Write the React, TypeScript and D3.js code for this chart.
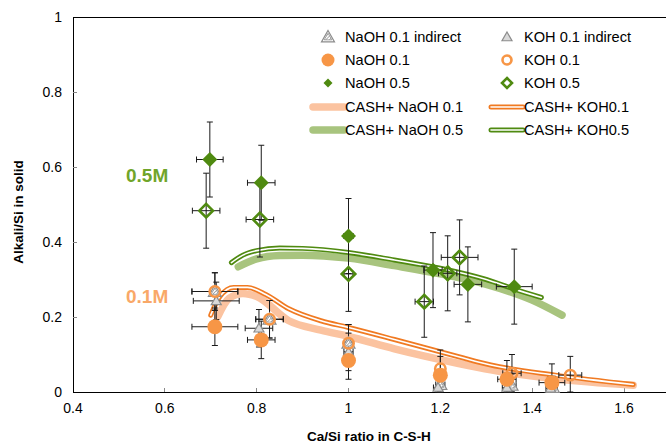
import React from "react";
import * as d3 from "d3";

const W = 666, H = 445;
const xTicks = [0.4, 0.6, 0.8, 1, 1.2, 1.4, 1.6];
const yTicks = [0, 0.2, 0.4, 0.6, 0.8, 1];

// NaOH 0.1 indirect
const naInd01X = [0.709, 0.828, 1.0, 1.2, 1.355, 1.445];
const naInd01Y = [0.268, 0.194, 0.13, 0.02, 0.018, 0.012];
const naInd01XErr = [0.05, 0.03, 0.01, 0.01, 0.01, 0.01];
const naInd01YErr = [0.05, 0.05, 0.05, 0.03, 0.03, 0.03];
// KOH 0.1 indirect
const kInd01X = [0.712, 0.805, 1.0, 1.195, 1.345, 1.44];
const kInd01Y = [0.243, 0.17, 0.107, 0.012, 0.012, 0.01];
const kInd01XErr = [0.05, 0.03, 0.01, 0.01, 0.01, 0.01];
const kInd01YErr = [0.05, 0.05, 0.05, 0.03, 0.03, 0.03];
// NaOH 0.1
const na01X = [0.709, 0.81, 1.0, 1.2, 1.345, 1.443];
const na01Y = [0.174, 0.139, 0.084, 0.045, 0.034, 0.025];
const na01XErr = [0.05, 0.03, 0.0, 0.0, 0.02, 0.028];
const na01YErr = [0.05, 0.05, 0.05, 0.05, 0.05, 0.05];
// KOH 0.1
const k01X = [0.709, 0.828, 1.0, 1.2, 1.356, 1.483];
const k01Y = [0.268, 0.194, 0.13, 0.062, 0.05, 0.045];
const k01XErr = [0.05, 0.03, 0.0, 0.0, 0.02, 0.025];
const k01YErr = [0.05, 0.05, 0.05, 0.05, 0.05, 0.05];
// NaOH 0.5
const na05X = [0.698, 0.81, 1.0, 1.184, 1.26, 1.361];
const na05Y = [0.62, 0.558, 0.416, 0.325, 0.287, 0.281];
const na05XErr = [0.029, 0.03, 0.01, 0.02, 0.03, 0.039];
const na05YErr = [0.1, 0.1, 0.1, 0.1, 0.1, 0.1];
// KOH 0.5
const k05X = [0.69, 0.807, 1.0, 1.165, 1.216, 1.242];
const k05Y = [0.4835, 0.46, 0.315, 0.241, 0.3165, 0.359];
const k05XErr = [0.03, 0.03, 0.01, 0.02, 0.02, 0.04];
const k05YErr = [0.1, 0.1, 0.1, 0.095, 0.1, 0.1];

// model curves
const cashNa01X = [0.715, 0.74, 0.77, 0.8, 0.87, 0.94, 1.0, 1.1, 1.24, 1.31, 1.45, 1.62];
const cashNa01Y = [0.2, 0.25, 0.263, 0.255, 0.19, 0.165, 0.148, 0.115, 0.076, 0.059, 0.035, 0.018];
const cashK01X = [0.7, 0.72, 0.75, 0.78, 0.82, 0.87, 0.94, 1.0, 1.1, 1.24, 1.31, 1.45, 1.62];
const cashK01Y = [0.205, 0.255, 0.279, 0.279, 0.26, 0.222, 0.19, 0.172, 0.14, 0.094, 0.072, 0.045, 0.02];
const cashNa05X = [0.76, 0.8, 0.85, 0.9, 1.0, 1.1, 1.2, 1.3, 1.4, 1.465];
const cashNa05Y = [0.334, 0.355, 0.364, 0.365, 0.357, 0.337, 0.315, 0.287, 0.245, 0.205];
const cashK05X = [0.745, 0.77, 0.8, 0.85, 0.9, 1.0, 1.1, 1.2, 1.3, 1.36, 1.42];
const cashK05Y = [0.345, 0.365, 0.377, 0.384, 0.383, 0.372, 0.352, 0.33, 0.3, 0.275, 0.252];

const legendLabels = [
  "NaOH 0.1 indirect", "KOH 0.1 indirect",
  "NaOH 0.1", "KOH 0.1",
  "NaOH 0.5", "KOH 0.5",
  "CASH+ NaOH 0.1", "CASH+ KOH0.1",
  "CASH+ NaOH 0.5", "CASH+ KOH0.5",
];

const ORANGE = "#f79646";
const ORANGE_D = "#f07a22";
const ORANGE_L = "#fbc3a0";
const GREEN = "#4f8a10";
const GREEN_L = "#a8c47e";
const GREY = "#8c8c8c";
const FONT = "Liberation Sans, Arial, sans-serif";

const x = d3.scaleLinear().domain([0.4, 1.6]).range([73, 624]);
const y = d3.scaleLinear().domain([0, 1]).range([392, 17]);

const lineGen = d3.line<[number, number]>().x(d => x(d[0])).y(d => y(d[1])).curve(d3.curveMonotoneX);
const zip = (a: number[], b: number[]) => a.map((v, i) => [v, b[i]] as [number, number]);

function ErrBars({ xs, ys, xe, ye }: { xs: number[]; ys: number[]; xe: number[]; ye: number[] }) {
  const c = 3;
  return (
    <g stroke="#1a1a1a" strokeWidth={1} fill="none">
      {xs.map((v, i) => {
        const cx = x(v), cy = y(ys[i]);
        const x1 = x(v - xe[i]), x2 = x(v + xe[i]);
        const y1 = y(ys[i] + ye[i]), y2 = y(Math.max(0, ys[i] - ye[i]));
        return (
          <g key={i}>
            <line x1={cx} x2={cx} y1={y1} y2={y2} />
            <line x1={cx - c} x2={cx + c} y1={y1} y2={y1} />
            <line x1={cx - c} x2={cx + c} y1={y2} y2={y2} />
            {xe[i] > 0.005 && (
              <>
                <line x1={x1} x2={x2} y1={cy} y2={cy} />
                <line x1={x1} x2={x1} y1={cy - c} y2={cy + c} />
                <line x1={x2} x2={x2} y1={cy - c} y2={cy + c} />
              </>
            )}
          </g>
        );
      })}
    </g>
  );
}

const diamond = (s: number) => `M0,${-s}L${s},0L0,${s}L${-s},0Z`;
const tri = (s: number) => `M0,${-s}L${s * 1.0},${s * 0.75}L${-s * 1.0},${s * 0.75}Z`;

function HatchTri({ cx, cy }: { cx: number; cy: number }) {
  return (
    <g transform={`translate(${cx},${cy})`}>
      <path d={tri(6.5)} fill="white" stroke={GREY} strokeWidth={1.2} />
      <path d={tri(3.8)} fill="url(#hatch)" stroke={GREY} strokeWidth={0.8} />
    </g>
  );
}
function SmallTri({ cx, cy }: { cx: number; cy: number }) {
  return (
    <g transform={`translate(${cx},${cy})`}>
      <path d={tri(5)} fill="#d9d9d9" stroke={GREY} strokeWidth={1.2} />
    </g>
  );
}
function FilledCircle({ cx, cy, r = 7.5 }: { cx: number; cy: number; r?: number }) {
  return <circle cx={cx} cy={cy} r={r} fill={ORANGE} />;
}
function OpenCircle({ cx, cy, r = 5.2 }: { cx: number; cy: number; r?: number }) {
  return <circle cx={cx} cy={cy} r={r} fill="none" stroke={ORANGE} strokeWidth={2.6} />;
}
function FilledDiamond({ cx, cy, s = 7.5 }: { cx: number; cy: number; s?: number }) {
  return <path transform={`translate(${cx},${cy})`} d={diamond(s)} fill={GREEN} />;
}
function OpenDiamond({ cx, cy, s = 6.8 }: { cx: number; cy: number; s?: number }) {
  return <path transform={`translate(${cx},${cy})`} d={diamond(s)} fill="none" stroke={GREEN} strokeWidth={2.6} />;
}

function Band({ d, color }: { d: string; color: string }) {
  return <path d={d} fill="none" stroke={color} strokeWidth={7.5} strokeLinecap="round" strokeLinejoin="round" />;
}
function DoubleLine({ d, color }: { d: string; color: string }) {
  return (
    <g fill="none" strokeLinecap="round" strokeLinejoin="round">
      <path d={d} stroke={color} strokeWidth={5} />
      <path d={d} stroke="white" strokeWidth={1.6} />
    </g>
  );
}

export default function App() {
  const legCol = [328, 507];
  const legTxt = [345, 524];
  const legLine = [[313, 344], [491, 523]];
  const legRows = [37, 60, 83, 107, 130];

  const legendMarker = (i: number) => {
    const col = i % 2, row = Math.floor(i / 2);
    const cx = legCol[col], cy = legRows[row];
    const [l1, l2] = legLine[col];
    const ld = `M${l1},${cy}L${l2},${cy}`;
    switch (i) {
      case 0: return <HatchTri cx={cx} cy={cy} />;
      case 1: return <SmallTri cx={cx} cy={cy} />;
      case 2: return <FilledCircle cx={cx} cy={cy} r={6.5} />;
      case 3: return <OpenCircle cx={cx} cy={cy} r={4.5} />;
      case 4: return <FilledDiamond cx={cx} cy={cy} s={4.5} />;
      case 5: return <OpenDiamond cx={cx} cy={cy} s={5} />;
      case 6: return <Band d={ld} color={ORANGE_L} />;
      case 7: return <DoubleLine d={ld} color={ORANGE_D} />;
      case 8: return <Band d={ld} color={GREEN_L} />;
      case 9: return <DoubleLine d={ld} color={GREEN} />;
    }
    return null;
  };

  return (
    <svg width={W} height={H} style={{ position: "absolute", left: 0, top: 0, background: "white" }} fontFamily={FONT}>
      <defs>
        <pattern id="hatch" width="2.5" height="2.5" patternUnits="userSpaceOnUse" patternTransform="rotate(45)">
          <rect width="2.5" height="2.5" fill="white" />
          <line x1="0" y1="0" x2="0" y2="2.5" stroke="#7f7f7f" strokeWidth="1.2" />
        </pattern>
      </defs>

      {/* axes */}
      <g stroke="#000" strokeWidth={1} fill="none" shapeRendering="crispEdges">
        <line x1={73} x2={73} y1={17} y2={392} />
        <line x1={73} x2={W} y1={392} y2={392} />
        <line x1={73} x2={W} y1={17} y2={17} />
        {yTicks.slice(1, -1).map(t => (
          <line key={t} x1={73} x2={77} y1={y(t)} y2={y(t)} stroke="#888" />
        ))}
        {xTicks.slice(1).map(t => (
          <line key={t} x1={x(t)} x2={x(t)} y1={392} y2={388} stroke="#888" />
        ))}
      </g>
      <g fontSize={14} fill="#000">
        {yTicks.map(t => (
          <text key={t} x={62} y={y(t) + 5} textAnchor="end">{d3.format("~g")(t)}</text>
        ))}
        {xTicks.map(t => (
          <text key={t} x={x(t)} y={413} textAnchor="middle">{d3.format("~g")(t)}</text>
        ))}
      </g>
      <text x={369} y={441} textAnchor="middle" fontSize={13.5} fontWeight="bold">Ca/Si ratio in C-S-H</text>
      <text transform="translate(23,212) rotate(-90)" textAnchor="middle" fontSize={13.5} fontWeight="bold">Alkali/Si in solid</text>

      <text x={126} y={182} fontSize={19} fontWeight="bold" fill="#70a52a">0.5M</text>
      <text x={126} y={303} fontSize={19} fontWeight="bold" fill="#f9a868">0.1M</text>

      {/* model curves */}
      <Band d={lineGen(zip(cashNa05X, cashNa05Y)) || ""} color={GREEN_L} />
      <Band d={lineGen(zip(cashNa01X, cashNa01Y)) || ""} color={ORANGE_L} />
      <DoubleLine d={lineGen(zip(cashK05X, cashK05Y)) || ""} color={GREEN} />
      <DoubleLine d={lineGen(zip(cashK01X, cashK01Y)) || ""} color={ORANGE_D} />

      {/* error bars */}
      <ErrBars xs={naInd01X} ys={naInd01Y} xe={naInd01XErr} ye={naInd01YErr} />
      <ErrBars xs={kInd01X} ys={kInd01Y} xe={kInd01XErr} ye={kInd01YErr} />
      <ErrBars xs={na01X} ys={na01Y} xe={na01XErr} ye={na01YErr} />
      <ErrBars xs={k01X} ys={k01Y} xe={k01XErr} ye={k01YErr} />
      <ErrBars xs={na05X} ys={na05Y} xe={na05XErr} ye={na05YErr} />
      <ErrBars xs={k05X} ys={k05Y} xe={k05XErr} ye={k05YErr} />

      {/* markers */}
      {naInd01X.map((v, i) => <HatchTri key={"a" + i} cx={x(v)} cy={y(naInd01Y[i])} />)}
      {kInd01X.map((v, i) => <SmallTri key={"b" + i} cx={x(v)} cy={y(kInd01Y[i])} />)}
      {na01X.map((v, i) => <FilledCircle key={"c" + i} cx={x(v)} cy={y(na01Y[i])} />)}
      {k01X.map((v, i) => <OpenCircle key={"d" + i} cx={x(v)} cy={y(k01Y[i])} />)}
      {na05X.map((v, i) => <FilledDiamond key={"e" + i} cx={x(v)} cy={y(na05Y[i])} />)}
      {k05X.map((v, i) => <OpenDiamond key={"f" + i} cx={x(v)} cy={y(k05Y[i])} />)}

      {/* legend */}
      {legendLabels.map((lab, i) => {
        const col = i % 2, row = Math.floor(i / 2);
        return (
          <g key={lab}>
            {legendMarker(i)}
            <text x={legTxt[col]} y={legRows[row] + 5} fontSize={14.6} fill="#000">{lab}</text>
          </g>
        );
      })}
    </svg>
  );
}
